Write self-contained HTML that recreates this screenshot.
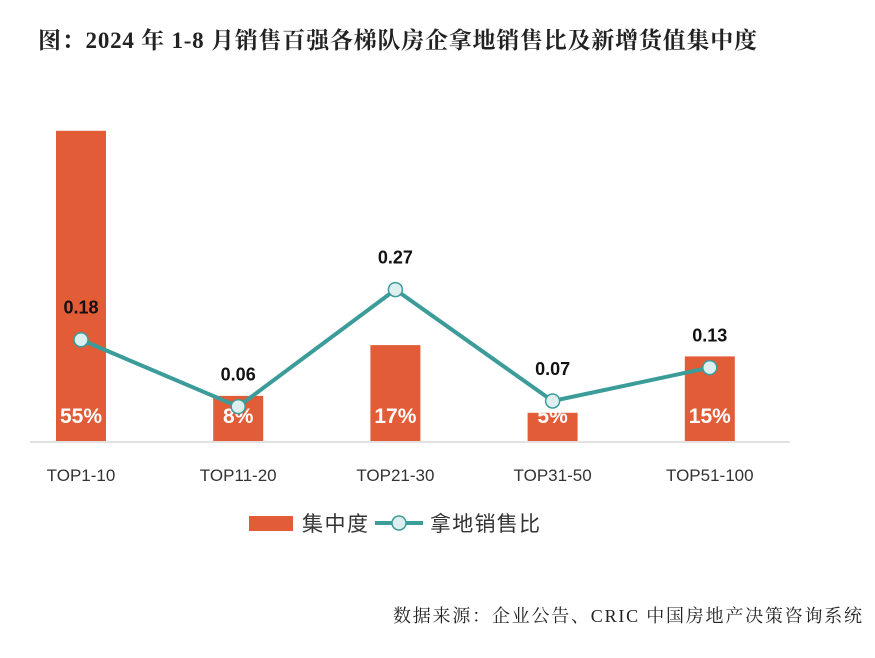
<!DOCTYPE html>
<html><head><meta charset="utf-8"><style>
body{margin:0;background:#fff;width:875px;height:653px;overflow:hidden;font-family:"Liberation Sans","Noto Sans CJK SC",sans-serif}
</style></head><body>
<svg width="875" height="653">
<text x="38" y="48" font-family="Liberation Serif,Noto Serif CJK SC,serif" font-weight="bold" font-size="23" textLength="719" lengthAdjust="spacing" fill="#222">图：2024 年 1-8 月销售百强各梯队房企拿地销售比及新增货值集中度</text>
<line x1="30" y1="442" x2="790" y2="442" stroke="#d9d9d9" stroke-width="1.5"/>
<g id="bars"></g><g id="line"></g><g id="xlabels"></g>
<g>
<rect x="249" y="516" width="44" height="15" fill="#e25c38"/>
<text x="302" y="531" font-size="21" textLength="66" lengthAdjust="spacing" fill="#333">集中度</text>
<line x1="375" y1="523" x2="423" y2="523" stroke="#3c9c99" stroke-width="4"/>
<circle cx="399" cy="523" r="7" fill="#deeff0" stroke="#3c9c99" stroke-width="1.5"/>
<text x="430" y="531" font-size="21" textLength="110" lengthAdjust="spacing" fill="#333">拿地销售比</text>
</g>
<text x="393" y="622" font-size="18" textLength="469" lengthAdjust="spacing" font-family="Liberation Serif,Noto Serif CJK SC,serif" fill="#222">数据来源：企业公告、CRIC 中国房地产决策咨询系统</text>
</svg>
<script>
const categories=["TOP1-10","TOP11-20","TOP21-30","TOP31-50","TOP51-100"];
const concentration=[55,8,17,5,15];
const concLabels=["55%","8%","17%","5%","15%"];
const ratio=[0.18,0.06,0.27,0.07,0.13];
const ns="http://www.w3.org/2000/svg";
const base=441;
const xPos=i=>81+i*157.2;
const yBar=v=>base-v*5.64;
const yLine=v=>440-v*557;
function mk(t,a,p){const e=document.createElementNS(ns,t);for(const k in a)e.setAttribute(k,a[k]);p.appendChild(e);return e;}
const gb=document.getElementById('bars'),gl=document.getElementById('line'),gx=document.getElementById('xlabels');
concentration.forEach((v,i)=>{
 const r=mk('rect',{x:xPos(i)-25,y:yBar(v),width:50,height:base-yBar(v),fill:'#e25c38'},gb);
 
 
 const t=mk('text',{x:xPos(i),y:423,'text-anchor':'middle','font-size':21,'font-weight':'bold',fill:'#fff'},gb);
 t.textContent=concLabels[i];
 
 
 const xl=mk('text',{x:xPos(i),y:481,'text-anchor':'middle','font-size':17,fill:'#333'},gx);
 xl.textContent=categories[i];
 
 
});
const pl=mk('polyline',{points:ratio.map((v,i)=>xPos(i)+','+yLine(v)).join(' '),fill:'none',stroke:'#3c9c99','stroke-width':4},gl);


ratio.forEach((v,i)=>{
 const c=mk('circle',{cx:xPos(i),cy:yLine(v),r:7,fill:'#deeff0',stroke:'#3c9c99','stroke-width':1.5},gl);
 
 
 const t=mk('text',{x:xPos(i),y:yLine(v)-26,'text-anchor':'middle','font-size':18,'font-weight':'bold',fill:'#111'},gl);
 t.textContent=v.toFixed(2);
 
 
});
</script>
</body></html>
